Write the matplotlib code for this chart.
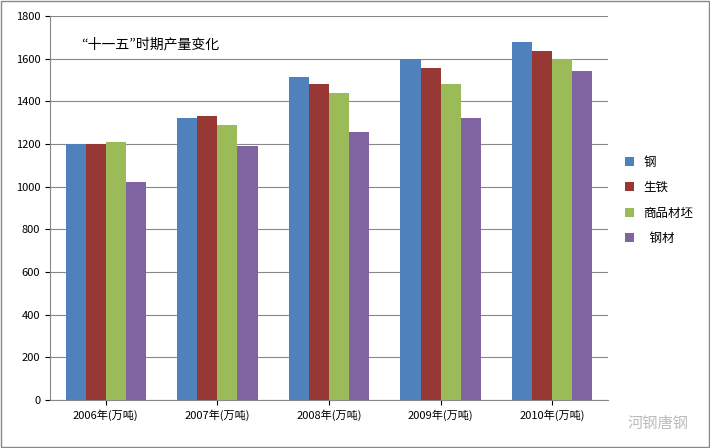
import matplotlib.pyplot as plt
from matplotlib import font_manager
import numpy as np

# pick a sans CJK font that is really installed
cjk = sorted({f.name for f in font_manager.fontManager.ttflist
              if 'CJK' in f.name and 'Sans' in f.name})
plt.rcParams['font.family'] = 'sans-serif'
plt.rcParams['font.sans-serif'] = ['Noto Sans CJK SC'] + cjk + ['DejaVu Sans']

years = ['2006年(万吨)', '2007年(万吨)', '2008年(万吨)', '2009年(万吨)', '2010年(万吨)']
series_names = ['钢', '生铁', '商品材坯', '  钢材']
steel = [1200, 1320, 1515, 1600, 1680]
pig_iron = [1200, 1330, 1480, 1555, 1635]
billet = [1210, 1290, 1440, 1480, 1600]
rolled = [1020, 1190, 1255, 1320, 1540]
colors = ['#4F81BD', '#973835', '#9BBB59', '#8064A2']

fig = plt.figure(figsize=(7.1, 4.48), dpi=100)
ax = fig.add_axes([50/710, 48/448, 558/710, 384/448])

x = np.arange(len(years))
w = 0.18
for i, vals in enumerate([steel, pig_iron, billet, rolled]):
    ax.bar(x + (i - 1.5) * w, vals, w, color=colors[i], label=series_names[i], zorder=3)

ax.set_xlim(-0.5, 4.5)
ax.set_ylim(0, 1800)
ax.set_yticks(range(0, 1801, 200))
ax.set_xticks(x)
ax.set_xticklabels(years, fontsize=8)
ax.tick_params(axis='y', labelsize=8)
ax.grid(axis='y', color='#888888', linewidth=0.8, zorder=0)
for s in ['top', 'right']:
    ax.spines[s].set_visible(False)
ax.spines['left'].set_color('#888888')
ax.spines['bottom'].set_color('#888888')
ax.text(0.055, 0.915, '“十一五”时期产量变化', transform=ax.transAxes, fontsize=10)

ax.legend(loc='center left', bbox_to_anchor=(1.01, 0.52), frameon=False,
          fontsize=9, handlelength=0.7, handleheight=0.7, labelspacing=1.0)

fig.text(0.97, 0.055, '河钢唐钢', ha='right', va='center', fontsize=11, color='#bbbbbb')
fig.patches.append(plt.Rectangle((0.002, 0.002), 0.996, 0.996, transform=fig.transFigure,
                                 fill=False, edgecolor='#888888', linewidth=1))
fig.savefig('out.png', dpi=100)
